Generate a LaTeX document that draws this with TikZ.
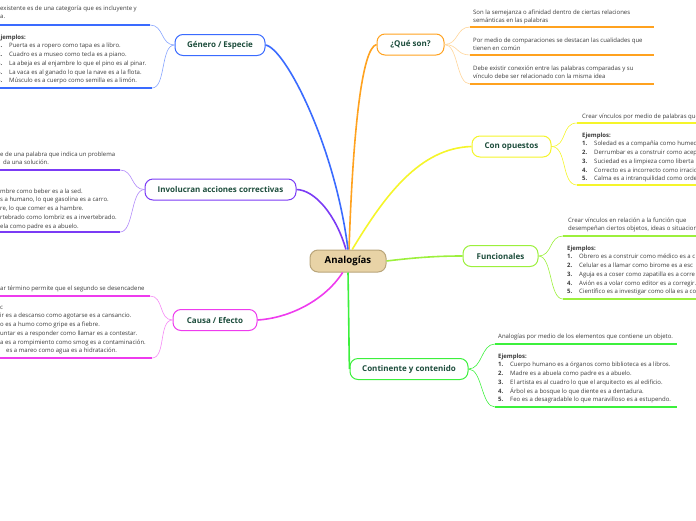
\documentclass[tikz,border=0pt]{standalone}
\usepackage{fontspec}
\setmainfont{Open Sans}
\usepackage{xcolor}
\usetikzlibrary{positioning}

\definecolor{brOrange}{HTML}{FFA21F}
\definecolor{brYellow}{HTML}{F5F52A}
\definecolor{brLime}{HTML}{9CF03C}
\definecolor{brGreen}{HTML}{3CF03C}
\definecolor{brBlue}{HTML}{3A6BFF}
\definecolor{brPurple}{HTML}{7B3BF5}
\definecolor{brPink}{HTML}{EE3BEE}
\definecolor{rootFill}{HTML}{E8D3A6}
\definecolor{rootLine}{HTML}{B9A57A}
\definecolor{topicText}{HTML}{1D4D3C}
\definecolor{noteText}{HTML}{3A3A3A}

\newcommand{\exitem}[2]{\makebox[12pt][l]{\textbf{#1.}}#2}

\begin{document}
\begin{tikzpicture}[
    x=1pt, y=-1pt,
    every node/.style={font=\fontsize{6.0}{8.7}\selectfont},
    root/.style={draw=rootLine, fill=rootFill, rounded corners=8pt, line width=1pt,
        minimum height=22pt, font=\fontsize{9.6}{11}\selectfont\bfseries},
    topic/.style={draw, fill=white, rounded corners=8pt, line width=1pt,
        minimum height=21pt, text=topicText, font=\fontsize{8.0}{9}\selectfont\bfseries},
    note/.style={anchor=north west, inner sep=0pt, align=left, text=noteText},
    branch/.style={line width=1.6pt},
    twig/.style={line width=0.6pt},
    uline/.style={line width=1.8pt}
]
    \useasboundingbox (0,0) rectangle (696,520);

    % central idea and main topics
    \node[root, minimum width=76pt] (ana) at (348,261) {Analogías};
    \node[topic, draw=brOrange, minimum width=67pt] (que) at (410.5,44.5) {¿Qué son?};
    \node[topic, draw=brYellow, minimum width=79pt] (con) at (511.5,146.5) {Con opuestos};
    \node[topic, draw=brLime, minimum width=75pt] (fun) at (500.5,256) {Funcionales};
    \node[topic, draw=brGreen, minimum width=118pt] (cont) at (409,369) {Continente y contenido};
    \node[topic, draw=brBlue, minimum width=90pt] (gen) at (220,45) {Género / Especie};
    \node[topic, draw=brPurple, minimum width=151pt] (inv) at (220.5,189.5) {Involucran acciones correctivas};
    \node[topic, draw=brPink, minimum width=84pt] (cau) at (215,320) {Causa / Efecto};

    \draw[branch, brOrange] (ana.85) .. controls (353,130) and (362,48) .. (que.west);
    \draw[branch, brBlue] (ana.north) .. controls (335,145) and (285,48) .. (gen.east);
    \draw[branch, brPurple] (ana.100) .. controls (336,215) and (315,190) .. (inv.east);
    \draw[branch, brYellow] (ana.70) .. controls (385,195) and (420,148) .. (con.west);
    \draw[branch, brLime] (ana.east) .. controls (420,257) and (440,256) .. (fun.west);
    \draw[branch, brGreen] (ana.south) .. controls (349,330) and (349,355) .. (cont.west);
    \draw[branch, brPink] (ana.-115) .. controls (325,300) and (290,318) .. (cau.east);

    % ¿Qué son?
    \coordinate (q1) at (470,27);
    \coordinate (q2) at (470,55);
    \coordinate (q3) at (470,84);
    \node[note] (q1t) at (473,8) {\strut Son la semejanza o afinidad dentro de ciertas relaciones\\semánticas en las palabras};
    \node[note] (q2t) at (473,36) {\strut Por medio de comparaciones se destacan las cualidades que\\tienen en común};
    \node[note] (q3t) at (473,64) {\strut Debe existir conexión entre las palabras comparadas y su\\vínculo debe ser relacionado con la misma idea};
    \foreach \c in {q1,q2,q3} {
        \draw[twig, brOrange!45] (que.east) .. controls +(14,0) and +(-14,0) .. (\c);
        \draw[uline, brOrange] (\c) -- ++(184,0);
    }

    % Con opuestos
    \coordinate (c1) at (577,123);
    \coordinate (c2) at (577,185);
    \node[note] (c1t) at (582,112) {\strut Crear vínculos por medio de palabras que};
    \node[note] (c2t) at (582,131) {\strut\textbf{Ejemplos:}\\
        \exitem{1}{Soledad es a compañía como humed}\\
        \exitem{2}{Derrumbar es a construir como acep}\\
        \exitem{3}{Suciedad es a limpieza como liberta}\\
        \exitem{4}{Correcto es a incorrecto como irracio}\\
        \exitem{5}{Calma es a intranquilidad como orde}};
    \foreach \c in {c1,c2} {
        \draw[twig, brYellow] (con.east) .. controls +(16,0) and +(-16,0) .. (\c);
        \draw[uline, brYellow] (\c) -- ++(125,0);
    }

    % Funcionales
    \coordinate (f1) at (563,236);
    \coordinate (f2) at (563,299);
    \node[note] (f1t) at (568,216) {\strut Crear vínculos en relación a la función que\\desempeñan ciertos objetos, ideas o situacion};
    \node[note] (f2t) at (567,244) {\strut\textbf{Ejemplos:}\\
        \exitem{1}{Obrero es a construir como médico es a c}\\
        \exitem{2}{Celular es a llamar como birome es a esc}\\
        \exitem{3}{Aguja es a coser como zapatilla es a corre}\\
        \exitem{4}{Avión es a volar como editor es a corregir.}\\
        \exitem{5}{Científico es a investigar como olla es a co}};
    \foreach \c in {f1,f2} {
        \draw[twig, brLime] (fun.east) .. controls +(14,0) and +(-14,0) .. (\c);
        \draw[uline, brLime] (\c) -- ++(140,0);
    }

    % Continente y contenido
    \coordinate (k1) at (495,344);
    \coordinate (k2) at (495,407);
    \node[note] (k1t) at (498,332) {\strut Analogías por medio de los elementos que contiene un objeto.};
    \node[note] (k2t) at (498,352) {\strut\textbf{Ejemplos:}\\
        \exitem{1}{Cuerpo humano es a órganos como biblioteca es a libros.}\\
        \exitem{2}{Madre es a abuela como padre es a abuelo.}\\
        \exitem{3}{El artista es al cuadro lo que el arquitecto es al edificio.}\\
        \exitem{4}{Árbol es a bosque lo que diente es a dentadura.}\\
        \exitem{5}{Feo es a desagradable lo que maravilloso es a estupendo.}};
    \foreach \c in {k1,k2} {
        \draw[twig, brGreen] (cont.east) .. controls +(14,0) and +(-14,0) .. (\c);
        \draw[uline, brGreen] (\c) -- ++(182,0);
    }

    % Género / Especie
    \coordinate (g1) at (150,25);
    \coordinate (g2) at (152,88);
    \node[note] (g1t) at (0,4) {\strut existente es de una categoría que es incluyente y\\a.};
    \node[note] (g2t) at (-3,33) {\strut\textbf{Ejemplos:}\\
        \exitem{1}{Puerta es a ropero como tapa es a libro.}\\
        \exitem{2}{Cuadro es a museo como tecla es a piano.}\\
        \exitem{3}{La abeja es al enjambre lo que el pino es al pinar.}\\
        \exitem{4}{La vaca es al ganado lo que la nave es a la flota.}\\
        \exitem{5}{Músculo es a cuerpo como semilla es a limón.}};
    \foreach \c in {g1,g2} {
        \draw[twig, brBlue!60] (gen.west) .. controls +(-14,0) and +(14,0) .. (\c);
        \draw[uline, brBlue] (\c) -- (-5,0 |- \c);
    }

    % Involucran acciones correctivas
    \coordinate (i1) at (120,170);
    \coordinate (i2) at (120,232);
    \node[note] (i1t) at (0,150) {\strut e de una palabra que indica un problema\\\hspace*{3pt}da una solución.};
    \node[note] (i2t) at (0,187) {\strut mbre como beber es a la sed.\\
        s a humano, lo que gasolina es a carro.\\
        re, lo que comer es a hambre.\\
        rtebrado como lombriz es a invertebrado.\\
        ela como padre es a abuelo.};
    \foreach \c in {i1,i2} {
        \draw[twig, brPurple!60] (inv.west) .. controls +(-14,0) and +(14,0) .. (\c);
        \draw[uline, brPurple] (\c) -- (-5,0 |- \c);
    }

    % Causa / Efecto
    \coordinate (m1) at (150,296);
    \coordinate (m2) at (152,358);
    \node[note] (m1t) at (0,284) {\strut ar término permite que el segundo se desencadene};
    \node[note] (m2t) at (0,303) {\strut c\\
        ir es a descanso como agotarse es a cansancio.\\
        o es a humo como gripe es a fiebre.\\
        untar es a responder como llamar es a contestar.\\
        a es a rompimiento como smog es a contaminación.\\
        \hspace*{6pt}es a mareo como agua es a hidratación.};
    \foreach \c in {m1,m2} {
        \draw[twig, brPink!60] (cau.west) .. controls +(-14,0) and +(14,0) .. (\c);
        \draw[uline, brPink] (\c) -- (-5,0 |- \c);
    }
\end{tikzpicture}
\end{document}
